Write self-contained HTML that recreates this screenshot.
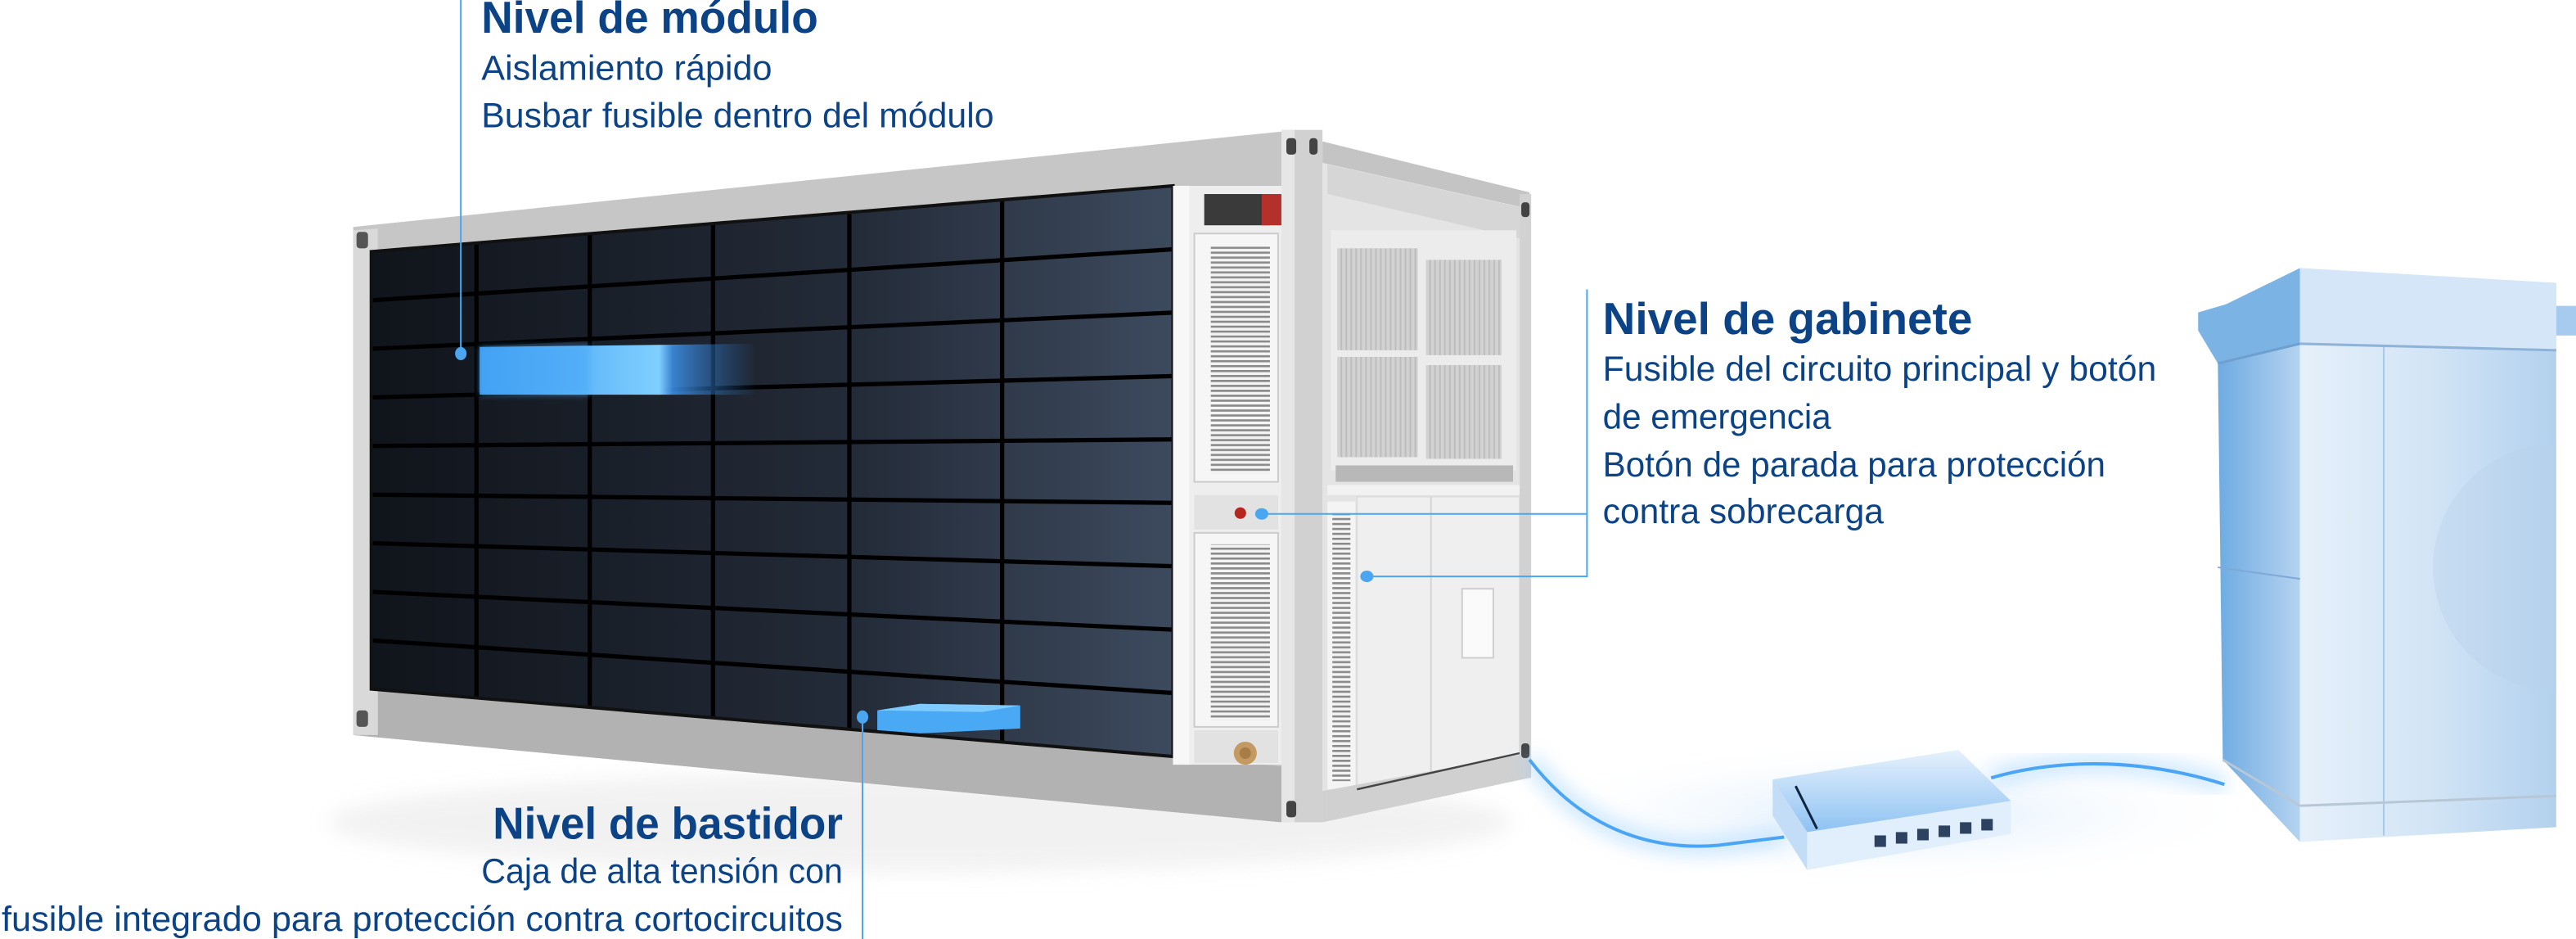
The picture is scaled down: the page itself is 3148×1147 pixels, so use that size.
<!DOCTYPE html>
<html><head><meta charset="utf-8"><style>
html,body{margin:0;padding:0;background:#fff;}
svg{display:block;}
text{font-family:"Liberation Sans",sans-serif;fill:#0b4386;}
</style></head><body>
<svg width="3148" height="1147" viewBox="0 0 1568 571" preserveAspectRatio="none" xmlns="http://www.w3.org/2000/svg">
<defs>
<linearGradient id="pan" x1="0" y1="0" x2="1" y2="0">
<stop offset="0" stop-color="#10141b"/><stop offset="0.6" stop-color="#232b38"/><stop offset="1" stop-color="#3d4a5e"/></linearGradient>
<linearGradient id="twL" x1="0" y1="0" x2="1" y2="0"><stop offset="0" stop-color="#6eabe2"/><stop offset="1" stop-color="#b5d3f0"/></linearGradient>
<linearGradient id="twF" x1="0" y1="0" x2="1" y2="0"><stop offset="0" stop-color="#e6f0fa"/><stop offset="0.5" stop-color="#d3e5f6"/><stop offset="1" stop-color="#b3d1ee"/></linearGradient>
<linearGradient id="mod" x1="0" y1="0" x2="1" y2="0"><stop offset="0" stop-color="#3b9af0"/><stop offset="0.65" stop-color="#7fd0ff"/><stop offset="0.7" stop-color="#3c8ce0" stop-opacity="0.9"/><stop offset="1" stop-color="#2a6fc0" stop-opacity="0"/></linearGradient>
<linearGradient id="rt" x1="0" y1="0" x2="0" y2="1"><stop offset="0" stop-color="#e6f1fc"/><stop offset="1" stop-color="#8ec2f3"/></linearGradient>
<pattern id="lv" width="4" height="3" patternUnits="userSpaceOnUse"><rect width="4" height="3" fill="#f4f4f4"/><rect width="4" height="1.3" fill="#8a8a8a"/></pattern>
<pattern id="mesh" width="3" height="3" patternUnits="userSpaceOnUse"><rect width="3" height="3" fill="#d2d2d2"/><rect width="1" height="3" fill="#bdbdbd"/></pattern>
<filter id="bl" x="-50%" y="-50%" width="200%" height="200%"><feGaussianBlur stdDeviation="6"/></filter>
<filter id="bl2" x="-50%" y="-50%" width="200%" height="200%"><feGaussianBlur stdDeviation="2"/></filter>
<radialGradient id="gl" cx="0.5" cy="0.5" r="0.5"><stop offset="0" stop-color="#cfe6fb" stop-opacity="0.8"/><stop offset="1" stop-color="#fff" stop-opacity="0"/></radialGradient>
</defs>

<ellipse cx="1150" cy="495" rx="230" ry="45" fill="url(#gl)"/>
<ellipse cx="560" cy="500" rx="360" ry="30" fill="#e9e9e9" opacity="0.6" filter="url(#bl)"/>

<polygon points="215,138 780,80 780,500 215,447" fill="#c6c6c6"/>
<polygon points="226,419 714,460 780,466 780,500 215,447" fill="#b2b2b2"/>
<polygon points="215,140 230,139 230,447 215,447" fill="#d9d9d9"/>
<rect x="217" y="141" width="7" height="10" rx="2" fill="#555"/>
<rect x="217" y="432" width="7" height="10" rx="2" fill="#555"/>
<polygon points="226,153 714,113 714,460 226,419" fill="url(#pan)"/>
<g stroke="#000" stroke-width="2.6">
<line x1="290" y1="147.8" x2="290" y2="424.4"/>
<line x1="359" y1="142.1" x2="359" y2="430.2"/>
<line x1="434" y1="136" x2="434" y2="436.5"/>
<line x1="517" y1="129.2" x2="517" y2="443.5"/>
<line x1="610" y1="121.5" x2="610" y2="451.3"/>
<line x1="226" y1="182.6" x2="714" y2="151.6"/>
<line x1="226" y1="212.1" x2="714" y2="190.1"/>
<line x1="226" y1="241.7" x2="714" y2="228.7"/>
<line x1="226" y1="271.2" x2="714" y2="267.2"/>
<line x1="226" y1="300.8" x2="714" y2="305.8"/>
<line x1="226" y1="330.3" x2="714" y2="344.3"/>
<line x1="226" y1="359.9" x2="714" y2="382.9"/>
<line x1="226" y1="389.4" x2="714" y2="421.4"/>
</g>
<polygon points="226,153 714,113 714,460 226,419" fill="none" stroke="#111" stroke-width="2"/>
<polygon points="292,211 460,209 460,240 292,240" fill="url(#mod)"/>
<polygon points="292,211 359,210 359,240 292,240" fill="#4aa8f8" opacity="0.6" filter="url(#bl2)"/>
<polygon points="534,432 560,428 621,429 621,443 560,446 534,444" fill="#4aa9f5"/>
<polygon points="534,432 560,428 621,429 598,433" fill="#7fcaff"/>

<rect x="714" y="113" width="66" height="352" fill="#eeeeee"/>
<rect x="714" y="113" width="10" height="352" fill="#f7f7f7"/>
<rect x="733" y="118" width="40" height="19" fill="#3a3a3a"/>
<rect x="768" y="118" width="12" height="19" fill="#b3302b"/>
<rect x="727" y="142" width="51" height="151" fill="#f6f6f6" stroke="#ccc"/>
<rect x="737" y="150" width="36" height="138" fill="url(#lv)"/>
<rect x="727" y="301" width="51" height="21" fill="#e2e2e2"/>
<circle cx="755" cy="312" r="3.5" fill="#b6261e"/>
<rect x="727" y="324" width="51" height="118" fill="#f6f6f6" stroke="#ccc"/>
<rect x="737" y="331" width="36" height="107" fill="url(#lv)"/>
<rect x="727" y="444" width="51" height="20" fill="#e2e2e2"/>
<circle cx="758" cy="458" r="7" fill="#c49a63"/><circle cx="758" cy="458" r="3.5" fill="#a87c45"/>

<polygon points="805,86 931,117 931,473 805,500" fill="#e4e4e4"/>
<polygon points="805,86 931,117 931,127 805,99" fill="#c4c4c4"/>
<polygon points="808,100 925,126 925,145 808,118" fill="#d6d6d6"/>
<rect x="810" y="140" width="113" height="146" fill="#ececec"/>
<rect x="814" y="151" width="49" height="62" fill="url(#mesh)"/>
<rect x="868" y="158" width="46" height="58" fill="url(#mesh)"/>
<rect x="814" y="217" width="49" height="61" fill="url(#mesh)"/>
<rect x="868" y="222" width="46" height="57" fill="url(#mesh)"/>
<rect x="813" y="283" width="108" height="10" fill="#b8b8b8"/>
<rect x="808" y="295" width="117" height="6" fill="#f2f2f2"/>
<polygon points="826,302 925,302 925,458 826,480" fill="#efefef" stroke="#ddd"/>
<line x1="871" y1="302" x2="871" y2="470" stroke="#d4d4d4"/>
<rect x="890" y="358" width="19" height="42" fill="#fafafa" stroke="#cfcfcf"/>
<rect x="808" y="305" width="17" height="175" fill="#f4f4f4"/>
<rect x="811" y="312" width="11" height="163" fill="url(#lv)"/>
<polygon points="805,481 931,458 931,473 805,500" fill="#d0d0d0"/>
<line x1="826" y1="480" x2="925" y2="458" stroke="#444" stroke-width="1.2"/>
<rect x="925" y="118" width="7" height="355" fill="#d2d2d2"/>
<rect x="780" y="79" width="25" height="421" fill="#d1d1d1"/>
<rect x="780" y="79" width="8" height="421" fill="#e6e6e6"/>
<rect x="783" y="84" width="6" height="10" rx="2" fill="#444"/>
<rect x="797" y="84" width="5" height="10" rx="2" fill="#444"/>
<rect x="783" y="487" width="6" height="10" rx="2" fill="#444"/>
<rect x="926" y="123" width="5" height="9" rx="2" fill="#444"/>
<rect x="926" y="452" width="5" height="9" rx="2" fill="#444"/>

<path d="M931,462 C960,500 1000,518 1046,514 L1086,509" fill="none" stroke="#8cc9ff" stroke-width="8" opacity="0.6" filter="url(#bl)"/>
<path d="M931,462 C960,500 1000,518 1046,514 L1086,509" fill="none" stroke="#4aa6f5" stroke-width="2"/>
<path d="M1212,473 C1250,462 1300,460 1354,477" fill="none" stroke="#8cc9ff" stroke-width="8" opacity="0.6" filter="url(#bl)"/>
<path d="M1212,473 C1250,462 1300,460 1354,477" fill="none" stroke="#4aa6f5" stroke-width="2"/>

<polygon points="1079,474 1100,506 1100,529 1079,496" fill="#c3ddf6"/>
<polygon points="1100,506 1224,487 1224,507 1100,529" fill="#e1eefb"/>
<polygon points="1079,474 1192,456 1224,487 1100,506" fill="url(#rt)"/>
<line x1="1093" y1="478" x2="1106" y2="504" stroke="#102540" stroke-width="1.5"/>
<g fill="#2c4260"><rect x="1141" y="508" width="7" height="7"/><rect x="1154" y="506" width="7" height="7"/><rect x="1167" y="504" width="7" height="7"/><rect x="1180" y="502" width="7" height="7"/><rect x="1193" y="500" width="7" height="7"/><rect x="1206" y="498" width="7" height="7"/></g>

<polygon points="1350,221 1400,209 1400,512 1353,462" fill="url(#twL)"/>
<polygon points="1400,209 1556,213 1556,503 1400,512" fill="url(#twF)"/>
<circle cx="1556" cy="345" r="75" fill="#b9d2ea" opacity="0.4"/>
<rect x="1556" y="180" width="12" height="330" fill="#fff"/>
<line x1="1451" y1="211" x2="1451" y2="508" stroke="#a9c6e4" stroke-width="1"/>
<line x1="1350" y1="345" x2="1400" y2="352" stroke="#7ea9d6" stroke-width="1"/>
<line x1="1353" y1="462" x2="1400" y2="490" stroke="#b7c7d6" stroke-width="1.5"/>
<line x1="1400" y1="490" x2="1556" y2="484" stroke="#b7c7d6" stroke-width="1.5"/>
<polygon points="1338,190 1355,185 1400,163 1400,209 1350,221 1338,201" fill="#7ab3e4"/>
<polygon points="1400,163 1556,172 1556,213 1400,209" fill="#d4e6f7"/>
<rect x="1556" y="186" width="12" height="18" fill="#a6cbee"/>
<line x1="1350" y1="221" x2="1400" y2="209" stroke="#6e9fcf" stroke-width="1.5"/>
<line x1="1400" y1="209" x2="1556" y2="213" stroke="#8fb3d8" stroke-width="1.5"/>

<g stroke="#4aa6f0" stroke-width="1" fill="none">
<line x1="280.5" y1="0" x2="280.5" y2="215"/>
<line x1="525" y1="436" x2="525" y2="571"/>
<polyline points="768,312.5 966,312.5"/>
<polyline points="832,350.5 966,350.5"/>
<line x1="966" y1="176" x2="966" y2="351"/>
</g>
<g fill="#4aa6f0">
<ellipse cx="280.5" cy="215" rx="3.5" ry="4"/>
<ellipse cx="525" cy="436" rx="3.5" ry="4"/>
<ellipse cx="768" cy="312.5" rx="4" ry="3.5"/>
<ellipse cx="832" cy="350.5" rx="4" ry="3.5"/>
</g>

<text x="293" y="20" font-size="27" font-weight="bold" textLength="205" lengthAdjust="spacingAndGlyphs">Nivel de módulo</text>
<text x="293" y="48.5" font-size="21" textLength="177" lengthAdjust="spacingAndGlyphs">Aislamiento rápido</text>
<text x="293" y="77.5" font-size="21" textLength="312" lengthAdjust="spacingAndGlyphs">Busbar fusible dentro del módulo</text>

<text x="975.6" y="203" font-size="27" font-weight="bold" textLength="225" lengthAdjust="spacingAndGlyphs">Nivel de gabinete</text>
<text x="975.6" y="231.6" font-size="21" textLength="337" lengthAdjust="spacingAndGlyphs">Fusible del circuito principal y botón</text>
<text x="975.6" y="260.6" font-size="21" textLength="139" lengthAdjust="spacingAndGlyphs">de emergencia</text>
<text x="975.6" y="289.7" font-size="21" textLength="306" lengthAdjust="spacingAndGlyphs">Botón de parada para protección</text>
<text x="975.6" y="318" font-size="21" textLength="171" lengthAdjust="spacingAndGlyphs">contra sobrecarga</text>

<text x="300" y="510" font-size="27" font-weight="bold" textLength="213" lengthAdjust="spacingAndGlyphs">Nivel de bastidor</text>
<text x="293" y="537" font-size="21" textLength="220" lengthAdjust="spacingAndGlyphs">Caja de alta tensión con</text>
<text x="1" y="566" font-size="21" textLength="512" lengthAdjust="spacingAndGlyphs">fusible integrado para protección contra cortocircuitos</text>
</svg>
</body></html>
